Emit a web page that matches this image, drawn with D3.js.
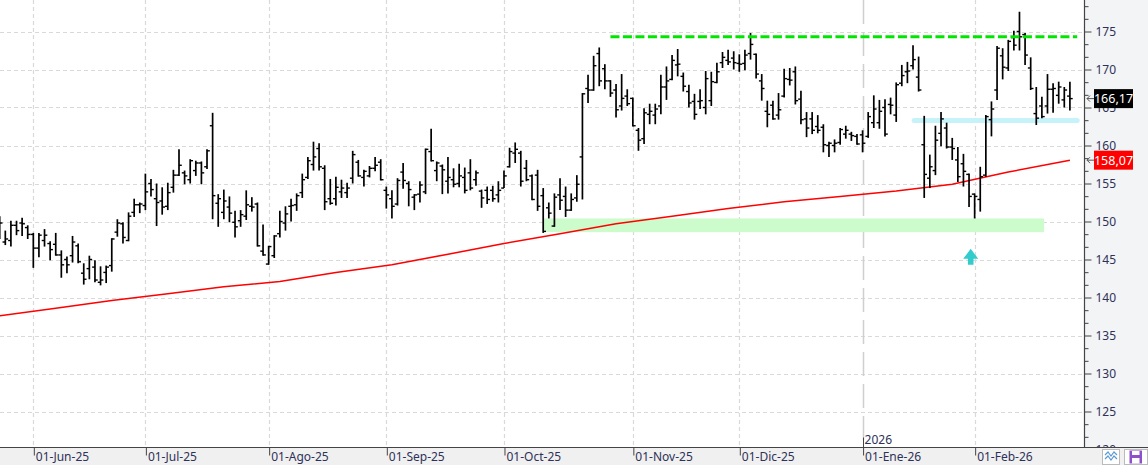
<!DOCTYPE html>
<html><head><meta charset="utf-8">
<script src="https://cdn.jsdelivr.net/npm/d3@7"></script>
<style>body{margin:0;background:#fff;overflow:hidden}svg{display:block}</style>
</head><body>
<svg id="c" width="1148" height="465"></svg>
<script>
// ---- DATA (daily OHLC, 22-May-25 .. 26-Feb-26) ----
const opens = [
148.5,147.3,147.5,149.5,149.8,149.2,148.3,146.5,147.5,147.1,
147.0,145.6,145.0,145.5,146.8,143.2,143.8,144.0,142.0,143.3,
144.2,148.6,149.7,147.5,151.2,152.2,152.1,155.0,153.0,152.7,
152.0,154.5,156.1,156.4,155.5,156.7,157.7,157.2,162.6,152.4,
151.2,151.9,149.9,150.1,150.7,152.0,152.3,146.1,144.4,145.5,
148.4,149.8,152.0,152.2,153.8,155.8,157.5,159.6,157.0,153.0,
153.0,153.9,153.8,155.7,157.8,155.8,156.0,157.0,157.8,154.1,
153.0,152.3,156.5,155.0,153.2,153.6,153.9,159.2,156.7,157.3,
155.3,155.5,155.0,155.8,156.4,155.5,154.0,154.1,154.1,153.5,
154.4,157.2,159.0,159.0,157.0,156.0,156.1,153.4,151.8,149.4,
153.5,153.3,151.5,153.1,158.5,167.5,167.3,172.1,170.1,168.5,
167.3,165.2,166.5,166.2,162.0,160.9,164.1,164.0,165.2,167.7,
168.7,170.6,169.1,167.1,165.8,165.8,165.0,165.9,168.3,170.9,
171.2,171.5,170.8,170.8,172.1,172.0,168.5,164.5,165.3,164.0,
166.5,168.7,169.7,166.1,163.5,163.5,162.5,162.4,160.0,160.0,
160.4,161.5,161.5,161.2,161.4,161.2,163.0,163.0,165.0,165.4,
164.0,168.2,169.7,170.5,169.0,160.1,155.7,156.7,161.6,162.3,
159.8,158.1,157.6,156.2,153.6,152.9,156.1,163.4,167.3,171.8,
170.2,174.2,175.0,174.6,170.2,164.2,165.2,165.2,167.4,166.6,
166.0,166.5];
const highs = [
150.7,148.8,150.1,150.1,150.5,149.5,148.5,148.5,149.0,147.4,
148.5,146.2,145.4,148.1,147.1,144.5,145.5,144.9,144.1,144.2,
147.8,150.3,149.9,151.2,153.0,152.5,156.3,155.6,155.0,154.5,
155.1,156.8,159.5,156.7,158.2,158.0,157.9,159.5,164.3,153.6,
154.2,153.3,151.4,151.5,154.1,153.2,152.5,149.6,146.8,148.2,
151.4,152.0,153.0,153.7,156.3,158.5,160.5,160.3,157.4,155.6,
155.9,155.5,155.1,159.3,158.1,156.8,157.3,158.5,158.2,154.6,
154.1,155.7,157.7,155.3,153.6,155.3,159.6,162.2,157.9,157.5,
158.5,157.0,157.6,157.1,158.2,156.7,154.2,154.6,154.7,155.3,
156.7,159.7,160.4,159.3,158.1,156.2,156.8,154.4,152.5,153.7,
155.7,154.6,153.7,156.1,166.9,169.3,171.8,172.9,170.7,168.6,
168.1,169.4,167.4,166.3,162.3,164.9,165.5,165.5,169.3,170.4,
171.9,172.7,169.6,168.0,166.8,167.4,169.8,169.7,170.9,172.3,
172.6,172.4,172.0,172.6,174.8,172.1,169.4,165.9,165.9,166.9,
170.1,170.2,170.4,167.2,164.4,164.4,164.0,162.8,160.5,160.8,
162.3,162.6,161.8,161.5,162.0,164.4,166.6,166.0,166.1,166.3,
168.3,170.6,171.0,173.2,171.7,163.9,158.8,162.6,164.4,163.0,
161.0,159.8,158.9,156.3,153.7,157.2,164.0,165.8,173.1,172.8,
173.9,175.1,177.6,174.8,171.6,167.7,166.4,169.4,168.2,168.4,
167.7,168.4];
const lows = [
147.7,146.9,146.7,148.2,148.1,147.7,143.9,145.3,146.7,144.9,
145.5,142.6,143.2,144.6,144.5,141.7,142.4,142.0,141.6,141.9,
143.4,148.0,147.1,147.4,150.6,151.1,151.5,153.3,149.4,150.9,
151.5,153.8,156.0,154.9,155.0,156.0,154.9,156.9,150.3,149.3,
150.3,149.9,147.9,149.3,150.2,151.3,146.7,145.5,144.3,145.2,
147.9,148.8,150.0,151.4,153.1,155.6,156.7,156.7,151.5,152.2,
152.1,153.1,153.1,155.0,155.9,154.6,155.8,156.6,155.4,151.7,
150.4,152.1,154.3,152.0,151.5,152.5,153.6,157.9,155.3,153.6,
153.7,154.5,154.5,153.7,154.1,154.7,151.8,152.3,152.6,152.5,
154.4,157.1,157.7,154.6,155.3,152.8,151.4,148.5,150.4,149.3,
151.5,150.6,151.4,152.6,152.9,165.6,167.2,167.8,167.4,166.4,
163.7,164.6,165.2,162.5,159.3,160.2,162.8,162.8,164.1,166.0,
168.6,169.1,167.1,165.0,163.4,164.8,164.1,165.2,168.2,170.2,
170.6,170.0,169.7,169.9,171.3,168.8,165.9,162.4,163.4,163.4,
166.3,167.9,165.4,162.8,161.1,161.5,161.6,159.1,158.5,159.1,
160.1,160.9,160.6,160.1,159.1,161.0,162.3,162.2,161.2,164.1,
163.1,167.8,168.2,170.0,167.1,153.1,154.4,156.1,159.9,159.6,
158.1,155.2,154.6,151.9,150.4,151.3,155.9,161.2,166.0,168.7,
169.8,172.5,172.5,170.6,167.3,162.7,163.6,164.2,164.3,165.5,
165.0,164.6];
const closes = [
149.8,147.7,149.5,148.8,149.7,148.3,146.5,148.2,148.2,146.3,
145.6,144.3,144.3,147.3,144.7,142.4,145.0,142.3,142.3,144.0,
147.7,149.8,147.9,150.7,152.2,152.3,153.9,154.2,152.5,151.9,
153.8,156.1,157.4,156.0,158.0,157.7,156.4,159.3,153.4,153.0,
152.7,151.1,149.3,150.9,152.2,151.9,146.8,145.6,146.7,148.1,
150.0,151.0,152.1,153.4,155.5,158.0,158.5,157.2,152.6,152.4,
154.5,154.4,154.4,158.8,156.0,156.6,157.0,157.4,155.5,153.5,
152.0,155.4,155.4,154.2,153.5,154.8,159.5,158.0,157.7,156.8,
155.8,154.9,156.0,154.1,154.4,156.4,153.1,152.9,153.0,154.1,
156.0,159.2,159.5,155.3,155.5,152.9,152.0,148.7,151.1,153.2,
152.8,151.5,152.9,154.9,166.8,167.3,170.5,168.5,168.5,166.9,
164.7,166.2,165.5,162.6,160.7,164.3,164.5,164.8,167.7,168.5,
171.2,170.7,167.8,165.6,164.1,165.9,168.8,168.4,169.7,171.6,
171.0,170.9,170.7,171.9,173.3,169.4,167.5,164.1,163.5,164.7,
168.8,168.6,165.9,163.4,162.3,162.0,162.0,160.1,160.3,160.3,
162.1,162.0,161.3,160.2,160.3,163.8,164.8,164.5,161.5,165.3,
168.0,169.2,169.8,171.3,167.3,156.2,157.2,160.7,163.5,159.8,
159.6,155.9,156.6,153.3,153.3,155.9,163.8,164.8,172.8,170.3,
173.7,173.2,174.3,171.9,167.5,163.6,163.8,167.4,167.5,167.7,
167.3,166.17];

// moving average (read at every 10th bar)
const maIdx  = [0,10,20,30,40,50,60,70,80,90,100,110,120,130,140,150,160,170,180,191];
const maVals = [137.6,138.6,139.6,140.5,141.4,142.1,143.3,144.3,145.7,147.1,148.4,149.7,150.7,151.7,152.6,153.3,154.0,154.9,156.5,158.07];

// month ticks (bar index of first session of each month)
const monthLabels = ["01-Jun-25","01-Jul-25","01-Ago-25","01-Sep-25","01-Oct-25","01-Nov-25","01-Dic-25","01-Ene-26","01-Feb-26"];
const monthIdx    = [6,26,48,69,90,113,132,154,174];
const yearIdx = 154, yearLabel = "2026";

const yTicks = [120,125,130,135,140,145,150,155,160,165,170,175];

// annotations
const resistance = {from:109, to:192.3, value:174.3};
const cyanLevel  = {from:163.2, to:192.3, value:163.3};
const greenZone  = {from:96.9, to:186.4, lo:148.6, hi:150.4};
const arrowMark  = {idx:173.3, value:146.4};
const lastPrice = 166.17, maLast = 158.07;

// ---- DRAW ----
const W = 1148, H = 465, plotR = 1084.5, plotB = 447.5;
const svg = d3.select("#c");
const N = closes.length;
const x = d3.scaleLinear().domain([0, N-1]).range([-0.3, 1069.9]);
const y = d3.scaleLinear().domain([120, 175]).range([449.5, 31.5]);

svg.append("rect").attr("width",W).attr("height",H).attr("fill","#fff");

// grid
const grid = svg.append("g");
grid.selectAll("line.h").data(yTicks).join("line")
  .attr("x1",0).attr("x2",plotR).attr("y1",d=>Math.round(y(d))+0.5).attr("y2",d=>Math.round(y(d))+0.5)
  .attr("stroke","#d9d9d9").attr("stroke-width",1.2).attr("stroke-dasharray","4,3");
grid.selectAll("line.v").data(monthIdx.filter(d=>d!==yearIdx)).join("line")
  .attr("x1",d=>Math.round(x(d))+0.5).attr("x2",d=>Math.round(x(d))+0.5).attr("y1",0).attr("y2",plotB)
  .attr("stroke","#d9d9d9").attr("stroke-width",1.2).attr("stroke-dasharray","4,3");
grid.append("line")
  .attr("x1",Math.round(x(yearIdx))+0.5).attr("x2",Math.round(x(yearIdx))+0.5).attr("y1",0).attr("y2",plotB)
  .attr("stroke","#cfcfcf").attr("stroke-width",1.5).attr("stroke-dasharray","24,8");

// green zone
svg.append("rect")
  .attr("x",x(greenZone.from)).attr("width",x(greenZone.to)-x(greenZone.from))
  .attr("y",y(greenZone.hi)).attr("height",y(greenZone.lo)-y(greenZone.hi))
  .attr("fill","#ccfccc");

// cyan level
svg.append("line")
  .attr("x1",x(cyanLevel.from)).attr("x2",x(cyanLevel.to))
  .attr("y1",y(cyanLevel.value)).attr("y2",y(cyanLevel.value))
  .attr("stroke","#c6f3fa").attr("stroke-width",5).attr("stroke-linecap","round");

// moving average
svg.append("path")
  .attr("d", d3.line().x((d,i)=>x(maIdx[i])).y(d=>y(d))(maVals))
  .attr("fill","none").attr("stroke","#ff0000").attr("stroke-width",1.5);

// OHLC bars
const bars = svg.append("g").attr("stroke","#000");
const idx = d3.range(N);
bars.selectAll("line.hl").data(idx).join("line")
  .attr("x1",i=>x(i)).attr("x2",i=>x(i)).attr("y1",i=>y(highs[i])).attr("y2",i=>y(lows[i]))
  .attr("stroke-width",1.7);
bars.selectAll("line.o").data(idx).join("line")
  .attr("x1",i=>x(i)-2.8).attr("x2",i=>x(i)).attr("y1",i=>y(opens[i])).attr("y2",i=>y(opens[i]))
  .attr("stroke-width",1.4);
bars.selectAll("line.c").data(idx).join("line")
  .attr("x1",i=>x(i)).attr("x2",i=>x(i)+2.8).attr("y1",i=>y(closes[i])).attr("y2",i=>y(closes[i]))
  .attr("stroke-width",1.4);

// resistance dashed line
svg.append("line")
  .attr("x1",x(resistance.from)).attr("x2",x(resistance.to))
  .attr("y1",y(resistance.value)).attr("y2",y(resistance.value))
  .attr("stroke","#00e600").attr("stroke-width",3).attr("stroke-dasharray","9,3.5");

// arrow
const ax = x(arrowMark.idx), ay = y(arrowMark.value);
svg.append("path")
  .attr("d",`M${ax},${ay} L${ax+7.5},${ay+10} L${ax+2.8},${ay+10} L${ax+2.8},${ay+16} L${ax-2.8},${ay+16} L${ax-2.8},${ay+10} L${ax-7.5},${ay+10} Z`)
  .attr("fill","#33cccc");

// right panel
svg.append("rect").attr("x",plotR).attr("y",0).attr("width",W-plotR).attr("height",H).attr("fill","#f3f4f6");

const fontAxis = "'Noto Sans', 'Open Sans', sans-serif";
const yAxis = d3.axisRight(y).tickValues(yTicks).tickSize(7).tickPadding(4).tickFormat(d3.format("d"));
const gy = svg.append("g").attr("transform",`translate(${plotR},0)`).call(yAxis);
gy.select(".domain").remove();
gy.selectAll(".tick line").attr("stroke","#444");
gy.selectAll(".tick text").attr("fill","#2e3158").attr("font-size","12px").attr("font-family",fontAxis);
const minor = d3.range(120, 181, 5/3).filter(v=>Math.abs(v/5-Math.round(v/5))>0.01);
const gy2 = svg.append("g").attr("transform",`translate(${plotR},0)`)
  .call(d3.axisRight(y).tickValues(minor).tickSize(4).tickFormat(""));
gy2.select(".domain").remove();
gy2.selectAll(".tick line").attr("stroke","#444");

// price tags
function tag(v, txt, bg){
  const yc = y(v);
  svg.append("rect").attr("x",1094).attr("y",yc-9.5).attr("width",39).attr("height",19).attr("fill",bg);
  svg.append("text").attr("x",1113.5).attr("y",yc).attr("dy","0.35em").attr("text-anchor","middle")
    .attr("fill","#fff").attr("font-size","12.5px").attr("font-family",fontAxis).text(txt);
  svg.append("path").attr("d",`M1094,${yc} H1087 M1090,${yc-3} L1087,${yc} L1090,${yc+3}`)
    .attr("stroke","#555").attr("fill","none").attr("stroke-width",1);
}
tag(lastPrice, d3.format(".2f")(lastPrice).replace(".",","), "#000");
tag(maLast, d3.format(".2f")(maLast).replace(".",","), "#ff0000");

// bottom band
svg.append("rect").attr("x",0).attr("y",plotB).attr("width",W).attr("height",H-plotB).attr("fill","#f0f0f0");
svg.append("line").attr("x1",0).attr("x2",W).attr("y1",plotB).attr("y2",plotB).attr("stroke","#444").attr("stroke-width",1.2);
svg.append("line").attr("x1",plotR).attr("x2",plotR).attr("y1",0).attr("y2",plotB).attr("stroke","#444").attr("stroke-width",1.2);

const xAxis = d3.axisBottom(x).tickValues(monthIdx).tickSize(8).tickFormat((d,i)=>monthLabels[i]);
const gx = svg.append("g").attr("transform",`translate(0,${plotB})`).call(xAxis);
gx.select(".domain").remove();
gx.selectAll(".tick line").attr("stroke","#444").attr("transform","translate(0.5,0)");
gx.selectAll(".tick text").attr("text-anchor","start").attr("x",2).attr("y",5).attr("dy","0.71em")
  .attr("fill","#2e3158").attr("font-size","12px").attr("font-family",fontAxis);

// year marker
svg.append("line").attr("x1",Math.round(x(yearIdx))+0.5).attr("x2",Math.round(x(yearIdx))+0.5)
  .attr("y1",plotB-10).attr("y2",plotB).attr("stroke","#444");
svg.append("text").attr("x",x(yearIdx)+2).attr("y",plotB-4).attr("fill","#2e3158")
  .attr("font-size","12px").attr("font-family",fontAxis).text(yearLabel);

// bottom-right buttons
svg.append("rect").attr("x",1102.5).attr("y",449.5).attr("width",17).attr("height",15).attr("fill","#fff").attr("stroke","#bbb");
svg.append("path").attr("d","M1105,455 L1108,452 L1111,456 L1114,452 L1117,455 M1105,459 L1108,456 L1111,460 L1114,456 L1117,459")
  .attr("fill","none").attr("stroke","#5b9bd5").attr("stroke-width",1.2);
svg.append("rect").attr("x",1124.5).attr("y",449.5).attr("width",23).attr("height",15).attr("fill","#fff").attr("stroke","#bbb");
svg.append("rect").attr("x",1129.5).attr("y",450.5).attr("width",12.5).attr("height",13).attr("fill","#8e52c8");
svg.append("rect").attr("x",1132).attr("y",451).attr("width",7.5).attr("height",4).attr("fill","#fff");
svg.append("rect").attr("x",1132).attr("y",458).attr("width",7.5).attr("height",5.5).attr("fill","#fff");
</script>
</body></html>
